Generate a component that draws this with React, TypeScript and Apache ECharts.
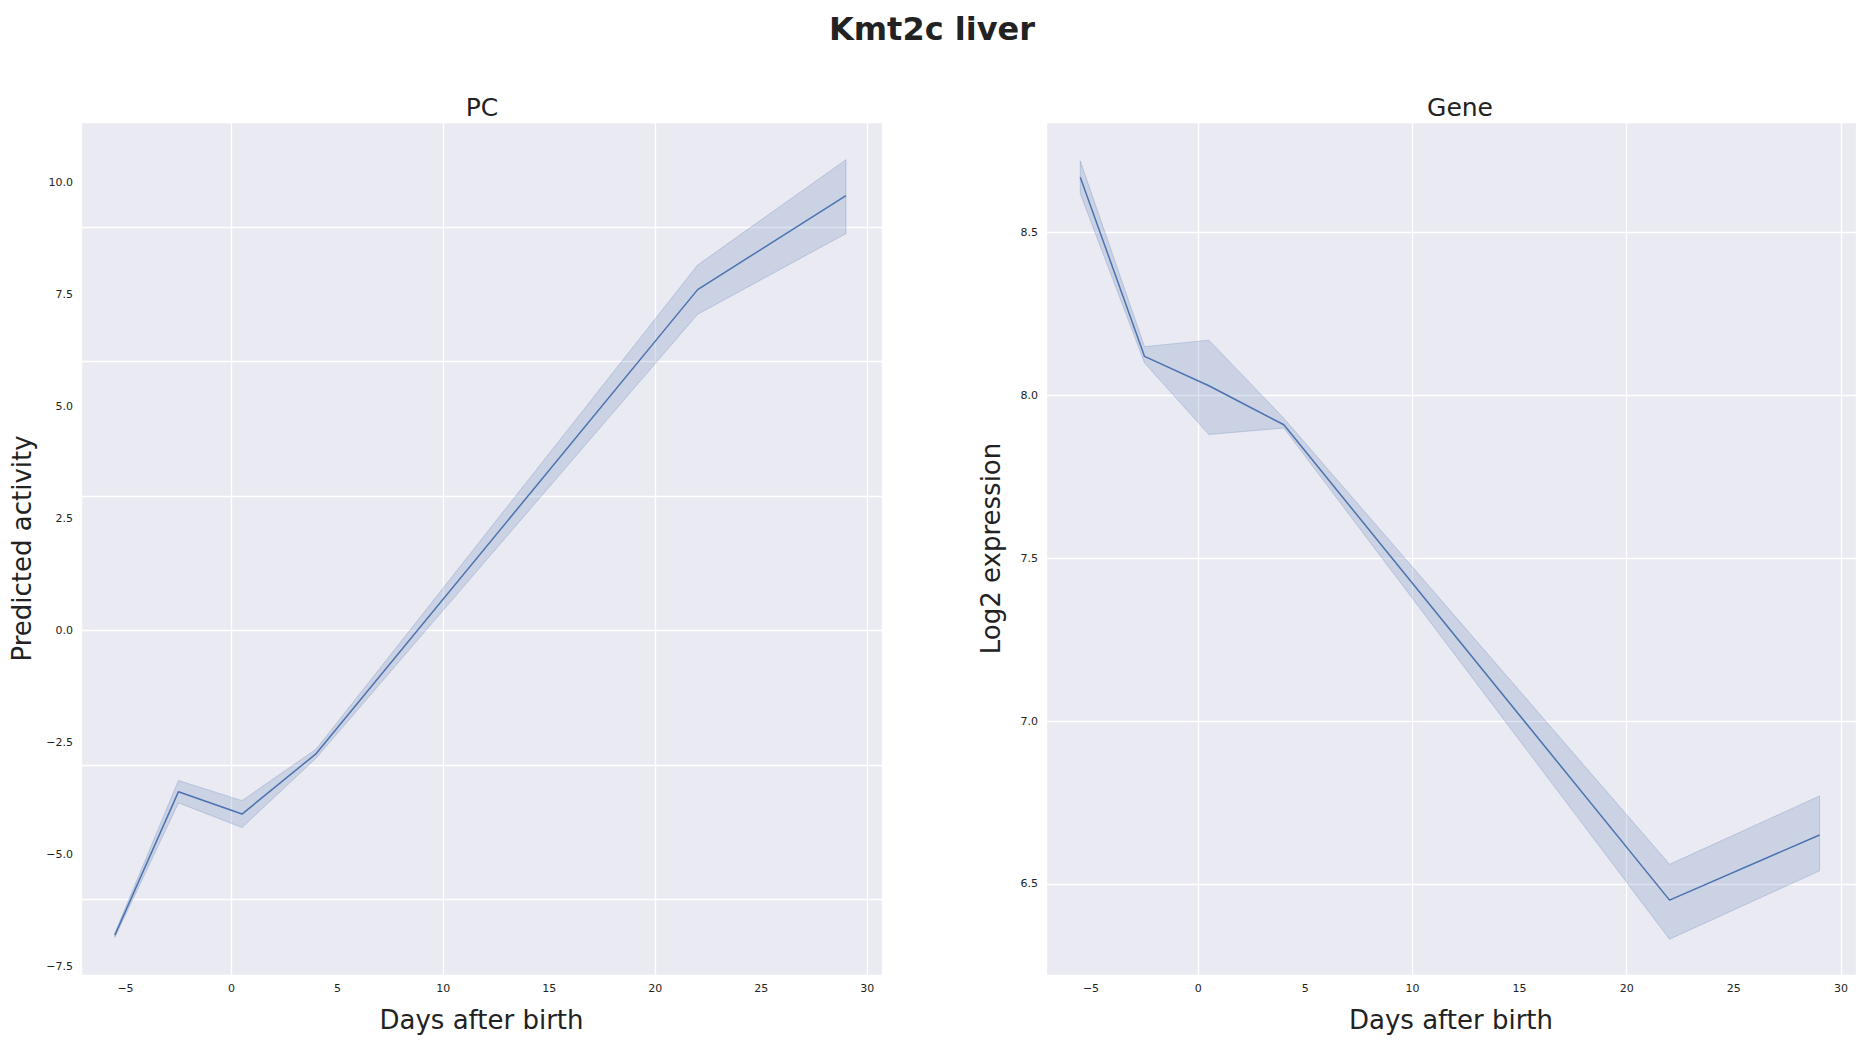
import { useEffect, useRef } from 'react'
import * as echarts from 'echarts'

const days = [-5.5, -2.5, 0.5, 4, 22, 29]
const pcMean = [-6.8, -3.6, -4.1, -2.75, 7.6, 9.7]
const pcLow = [-6.85, -3.85, -4.4, -2.85, 7.05, 8.85]
const pcHigh = [-6.75, -3.35, -3.8, -2.65, 8.15, 10.5]
const geneMean = [8.67, 8.12, 8.03, 7.91, 6.45, 6.65]
const geneLow = [8.62, 8.1, 7.88, 7.9, 6.33, 6.54]
const geneHigh = [8.72, 8.15, 8.17, 7.93, 6.56, 6.77]

const LINE = '#4c72b0'
const FONT = 'DejaVu Sans'

export default function App() {
  const ref = useRef<HTMLDivElement | null>(null)

  useEffect(() => {
    if (!ref.current) return
    const chart = echarts.init(ref.current, null, { renderer: 'svg' })

    const band = (idx: number, mean: number[], low: number[], high: number[]) => [
      {
        type: 'custom', xAxisIndex: idx, yAxisIndex: idx,
        data: days.map((d, i) => [d, low[i], high[i]]),
        renderItem: (params: any, api: any) => {
          if (params.dataIndex !== 0) return null
          const upper = days.map((d, i) => api.coord([d, high[i]]))
          const lower = days.map((d, i) => api.coord([d, low[i]])).reverse()
          return {
            type: 'polygon',
            shape: { points: [...upper, ...lower] },
            style: { fill: 'rgba(76,114,176,0.2)', stroke: 'rgba(76,114,176,0.25)', lineWidth: 1 }
          }
        }
      },
      {
        type: 'line', xAxisIndex: idx, yAxisIndex: idx, symbol: 'none',
        data: days.map((d, i) => [d, mean[i]]), lineStyle: { color: LINE, width: 1.5 }
      }
    ]

    const xAx = (grid: number) => ({
      type: 'value', gridIndex: grid, min: -7.1, max: 30.7,
      name: 'Days after birth', nameLocation: 'middle', nameGap: 32,
      nameTextStyle: { fontSize: 26, color: '#222', fontFamily: FONT },
      axisLine: { show: false }, axisTick: { show: false },
      axisLabel: { fontSize: 11, color: '#222', fontFamily: FONT, customValues: [-5, 0, 5, 10, 15, 20, 25, 30], formatter: (v: number) => (v < 0 ? '\u2212' + -v : '' + v) },
      splitLine: { show: true, customValues: [-5, 0, 5, 10, 15, 20, 25, 30], lineStyle: { color: '#fff', width: 1.3 } }
    })
    const yAx = (grid: number, min: number, max: number, ticks: number[], name: string, gap: number) => ({
      type: 'value', gridIndex: grid, min, max,
      name, nameLocation: 'middle', nameGap: gap,
      nameTextStyle: { fontSize: 26, color: '#222', fontFamily: FONT },
      axisLine: { show: false }, axisTick: { show: false },
      axisLabel: { fontSize: 11, color: '#222', fontFamily: FONT, customValues: ticks, formatter: (v: number) => (v < 0 ? '\u2212' + (-v).toFixed(1) : v.toFixed(1)) },
      splitLine: { show: true, customValues: ticks, lineStyle: { color: '#fff', width: 1.3 } }
    })

    chart.setOption({
      animation: false,
      backgroundColor: '#fff',
      title: [
        { text: 'Kmt2c liver', left: 'center', top: 0, textStyle: { fontSize: 32, fontWeight: 'bold', color: '#222', fontFamily: FONT } },
        { text: 'PC', left: 469, textAlign: 'center', top: 82, textStyle: { fontSize: 25, fontWeight: 'normal', color: '#222', fontFamily: FONT } },
        { text: 'Gene', left: 1447, textAlign: 'center', top: 82, textStyle: { fontSize: 25, fontWeight: 'normal', color: '#222', fontFamily: FONT } }
      ],
      grid: [
        { left: 64, top: 114, width: 810, height: 889, backgroundColor: '#eaeaf2', show: true, borderWidth: 0 },
        { left: 1038, top: 114, width: 818, height: 889, backgroundColor: '#eaeaf2', show: true, borderWidth: 0 }
      ],
      xAxis: [xAx(0), xAx(1)],
      yAxis: [
        yAx(0, -7.69, 11.34, [-7.5, -5, -2.5, 0, 2.5, 5, 7.5, 10], 'Predicted activity', 46),
        yAx(1, 6.22, 8.84, [6.5, 7, 7.5, 8, 8.5], 'Log2 expression', 42)
      ],
      series: [
        ...band(0, pcMean, pcLow, pcHigh),
        ...band(1, geneMean, geneLow, geneHigh)
      ]
    })
    return () => chart.dispose()
  }, [])

  return <div ref={ref} style={{ width: 1848, height: 1030 }} />
}
